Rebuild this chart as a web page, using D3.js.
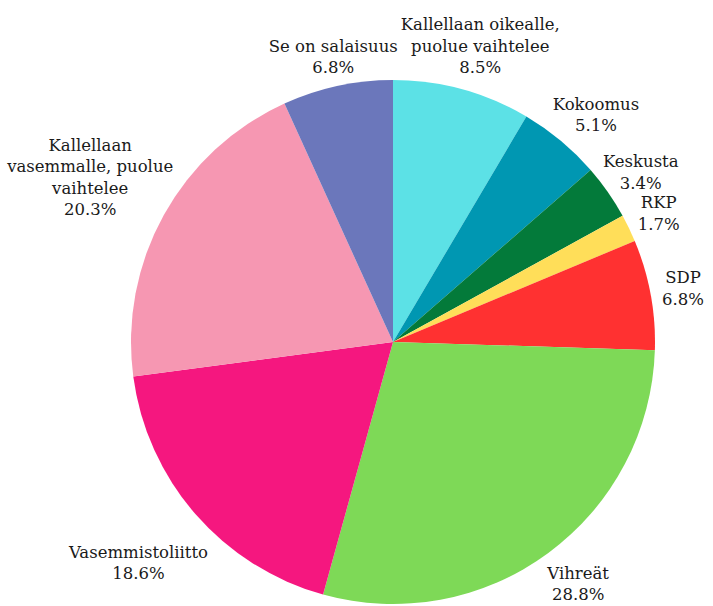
<!DOCTYPE html>
<html>
<head>
<meta charset="utf-8">
<script src="https://cdn.jsdelivr.net/npm/d3@7"></script>
<style>
  html, body { margin: 0; padding: 0; background: #fff; }
  svg { display: block; }
  .label { font-family: "DejaVu Serif", "Liberation Serif", serif; font-size: 16.5px; fill: #1a1a1a; }
</style>
</head>
<body>
<div id="chart"></div>
<script>
// puolueet myötäpäivään ylhäältä
const parties = [
  ["Kallellaan oikealle,", "puolue vaihtelee"],
  ["Kokoomus"],
  ["Keskusta"],
  ["RKP"],
  ["SDP"],
  ["Vihreät"],
  ["Vasemmistoliitto"],
  ["Kallellaan", "vasemmalle, puolue", "vaihtelee"],
  ["Se on salaisuus"]
];
const shares = [8.5, 5.1, 3.4, 1.7, 6.8, 28.8, 18.6, 20.3, 6.8];
const colors = ["#5ce1e6", "#0097b2", "#037a3a", "#ffde59", "#ff3131",
                "#7ed957", "#f5177f", "#f697b2", "#6b77bb"];

// tekstien pieni käsisiirto (px), samassa järjestyksessä
const labelNudge = [[-6, 0], [0, 0], [-8, 0], [0, 0], [0, 0],
                    [4, 4], [5, 27], [10, -11], [12, 4]];

const width = 713, height = 606;
const cx = 393, cy = 342, radius = 262;
const lineH = 21.5;

const svg = d3.select("#chart").append("svg")
    .attr("width", width)
    .attr("height", height);

const g = svg.append("g").attr("transform", `translate(${cx},${cy})`);

const pie = d3.pie().sort(null).value(d => d)(shares);
const arc = d3.arc().innerRadius(0).outerRadius(radius);

g.selectAll("path")
    .data(pie)
    .enter().append("path")
    .attr("d", arc)
    .attr("fill", (d, i) => colors[i]);

// tekstit: ankkuri kaaren ulkopuolella, siirretään laatikon koon mukaan
const labelR = radius + 12;
pie.forEach((d, i) => {
    const a = (d.startAngle + d.endAngle) / 2;
    const vx = Math.sin(a), vy = -Math.cos(a);
    const lines = parties[i].concat([shares[i].toFixed(1) + "%"]);

    const t = g.append("text")
        .attr("class", "label")
        .attr("text-anchor", "middle");
    lines.forEach((s, k) => {
        t.append("tspan").attr("x", 0).attr("y", k * lineH).text(s);
    });

    const bb = t.node().getBBox();
    const w = bb.width, h = lines.length * lineH;
    const x = vx * labelR + vx * w / 2 + labelNudge[i][0];
    const y = vy * labelR + vy * h / 2 - h / 2 + lineH * 0.75 + labelNudge[i][1];
    t.selectAll("tspan").attr("x", x).attr("y", (s, k) => y + k * lineH);
});
</script>
</body>
</html>
